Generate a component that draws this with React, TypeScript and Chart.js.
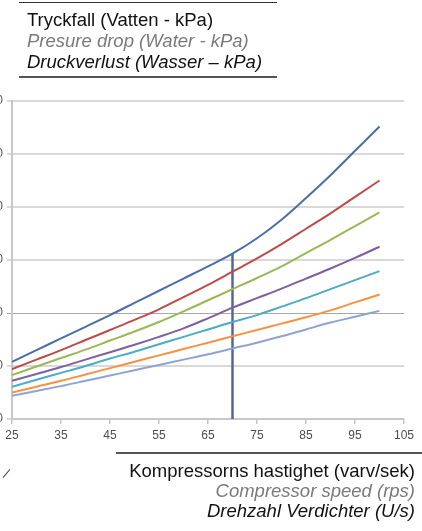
import React, { useEffect, useRef } from "react";
import { Chart, registerables } from "chart.js";

Chart.register(...registerables);

const speeds = [25, 30, 35, 40, 45, 50, 55, 60, 65, 70, 75, 80, 85, 90, 95, 100];
const seriesBlue = [10.8, 13.0, 15.2, 17.4, 19.6, 21.9, 24.2, 26.5, 28.8, 31.2, 34.1, 37.6, 41.7, 46.0, 50.6, 55.2];
const seriesRed = [9.4, 11.2, 13.0, 14.9, 16.8, 18.7, 20.7, 23.0, 25.3, 27.8, 30.3, 33.0, 35.9, 38.8, 41.9, 45.0];
const seriesGreen = [8.3, 9.9, 11.5, 13.1, 14.8, 16.5, 18.3, 20.3, 22.4, 24.5, 26.6, 28.8, 31.3, 33.8, 36.4, 39.0];
const seriesPurple = [7.2, 8.5, 9.8, 11.2, 12.6, 14.0, 15.5, 17.1, 19.0, 21.0, 22.8, 24.6, 26.5, 28.4, 30.4, 32.5];
const seriesTeal = [6.1, 7.4, 8.7, 10.0, 11.4, 12.7, 14.1, 15.5, 16.9, 18.3, 19.6, 21.2, 22.8, 24.5, 26.2, 27.9];
const seriesOrange = [5.0, 6.1, 7.2, 8.4, 9.6, 10.8, 12.0, 13.2, 14.4, 15.6, 16.8, 18.0, 19.2, 20.5, 22.0, 23.5];
const seriesLight = [4.4, 5.3, 6.2, 7.2, 8.2, 9.2, 10.2, 11.2, 12.2, 13.3, 14.4, 15.6, 16.9, 18.2, 19.3, 20.4];

const xTicks = [25, 35, 45, 55, 65, 75, 85, 95, 105];
const yTicks = [0, 10, 20, 30, 40, 50, 60];
const markerSpeed = 70;

const titleLines = ["Tryckfall (Vatten - kPa)", "Presure drop (Water - kPa)", "Druckverlust (Wasser – kPa)"];
const axisLines = ["Kompressorns hastighet (varv/sek)", "Compressor speed (rps)", "Drehzahl Verdichter (U/s)"];

const colors = ["#4a6ea9", "#be4b48", "#98b954", "#7d60a0", "#4aacc5", "#f69240", "#8ea3d3"];
const allSeries = [seriesBlue, seriesRed, seriesGreen, seriesPurple, seriesTeal, seriesOrange, seriesLight];

const FONT = "'Liberation Sans', Arial, sans-serif";

export default function App() {
  const ref = useRef<HTMLCanvasElement | null>(null);

  useEffect(() => {
    if (!ref.current) return;
    const markerValue = seriesBlue[speeds.indexOf(markerSpeed)];
    const datasets: any[] = allSeries.map((s, i) => ({
      data: speeds.map((x, j) => ({ x, y: s[j] })),
      borderColor: colors[i],
      borderWidth: 2,
      pointRadius: 0,
      fill: false,
      cubicInterpolationMode: "monotone",
    }));
    datasets.push({
      data: [
        { x: markerSpeed, y: 0 },
        { x: markerSpeed, y: markerValue },
      ],
      borderColor: "#55669a",
      borderWidth: 2.5,
      pointRadius: 0,
      fill: false,
    });

    const chart = new Chart(ref.current, {
      type: "line",
      data: { datasets },
      options: {
        animation: false,
        responsive: false,
        maintainAspectRatio: false,
        layout: { padding: { left: 0, right: 18, top: 101, bottom: 82 } },
        plugins: { legend: { display: false }, tooltip: { enabled: false } },
        scales: {
          x: {
            type: "linear",
            min: 25,
            max: 105,
            afterFit: (s: any) => {
              s.height = 30;
            },
            afterBuildTicks: (s: any) => {
              s.ticks = xTicks.map((v) => ({ value: v }));
            },
            ticks: {
              padding: 4,
              color: "#4d4d4d",
              font: { family: FONT, size: 12 },
              maxRotation: 0,
              autoSkip: false,
            },
            grid: {
              display: true,
              drawOnChartArea: false,
              drawTicks: true,
              tickLength: 5,
              color: "#c4c4c4",
              lineWidth: 1.5,
            },
            border: { display: true, color: "#c8c8c8", width: 2 },
          },
          y: {
            min: 0,
            max: 60,
            afterFit: (s: any) => {
              s.width = 52;
            },
            afterBuildTicks: (s: any) => {
              s.ticks = yTicks.map((v) => ({ value: v }));
            },
            ticks: {
              padding: 4,
              color: "#555",
              font: { family: FONT, size: 12 },
            },
            grid: {
              color: (ctx: any) => (ctx.tick && ctx.tick.value === 20 ? "#a8a8a8" : "#d9d9d9"),
              lineWidth: (ctx: any) => (ctx.tick && ctx.tick.value === 20 ? 1 : 2),
              tickLength: 5,
            },
            border: { display: true, color: "#c8c8c8", width: 2 },
          },
        },
      },
    });
    return () => chart.destroy();
  }, []);

  const textBase: React.CSSProperties = {
    position: "absolute",
    fontFamily: FONT,
    fontSize: 18.5,
    lineHeight: "21px",
    whiteSpace: "nowrap",
    margin: 0,
  };

  return (
    <div
      style={{
        position: "absolute",
        left: 0,
        top: 0,
        width: 422,
        height: 531,
        overflow: "hidden",
        background: "#fff",
      }}
    >
      <canvas
        ref={ref}
        width={462}
        height={531}
        style={{ position: "absolute", left: -40, top: 0, width: 462, height: 531 }}
      />
      <div style={{ position: "absolute", left: 19, top: 2, width: 258, height: 0, borderTop: "1.5px solid #333" }} />
      <div style={{ ...textBase, left: 27, top: 9, color: "#111" }}>{titleLines[0]}</div>
      <div style={{ ...textBase, left: 27, top: 30, color: "#7a7a7a", fontStyle: "italic" }}>{titleLines[1]}</div>
      <div style={{ ...textBase, left: 27, top: 51, color: "#111", fontStyle: "italic" }}>{titleLines[2]}</div>
      <div style={{ position: "absolute", left: 19, top: 76, width: 258, height: 0, borderTop: "2px solid #555" }} />

      <div style={{ position: "absolute", left: 116, top: 452, width: 306, height: 0, borderTop: "2px solid #555" }} />
      <div style={{ ...textBase, right: 7, top: 460, color: "#111", textAlign: "right" }}>{axisLines[0]}</div>
      <div style={{ ...textBase, right: 7, top: 480, color: "#7a7a7a", fontStyle: "italic", textAlign: "right" }}>
        {axisLines[1]}
      </div>
      <div style={{ ...textBase, right: 7, top: 500, color: "#111", fontStyle: "italic", textAlign: "right" }}>
        {axisLines[2]}
      </div>
      <div
        style={{
          position: "absolute",
          left: 1,
          top: 473,
          width: 11,
          height: 0,
          borderTop: "1px solid #333",
          transform: "rotate(-50deg)",
        }}
      />
    </div>
  );
}
